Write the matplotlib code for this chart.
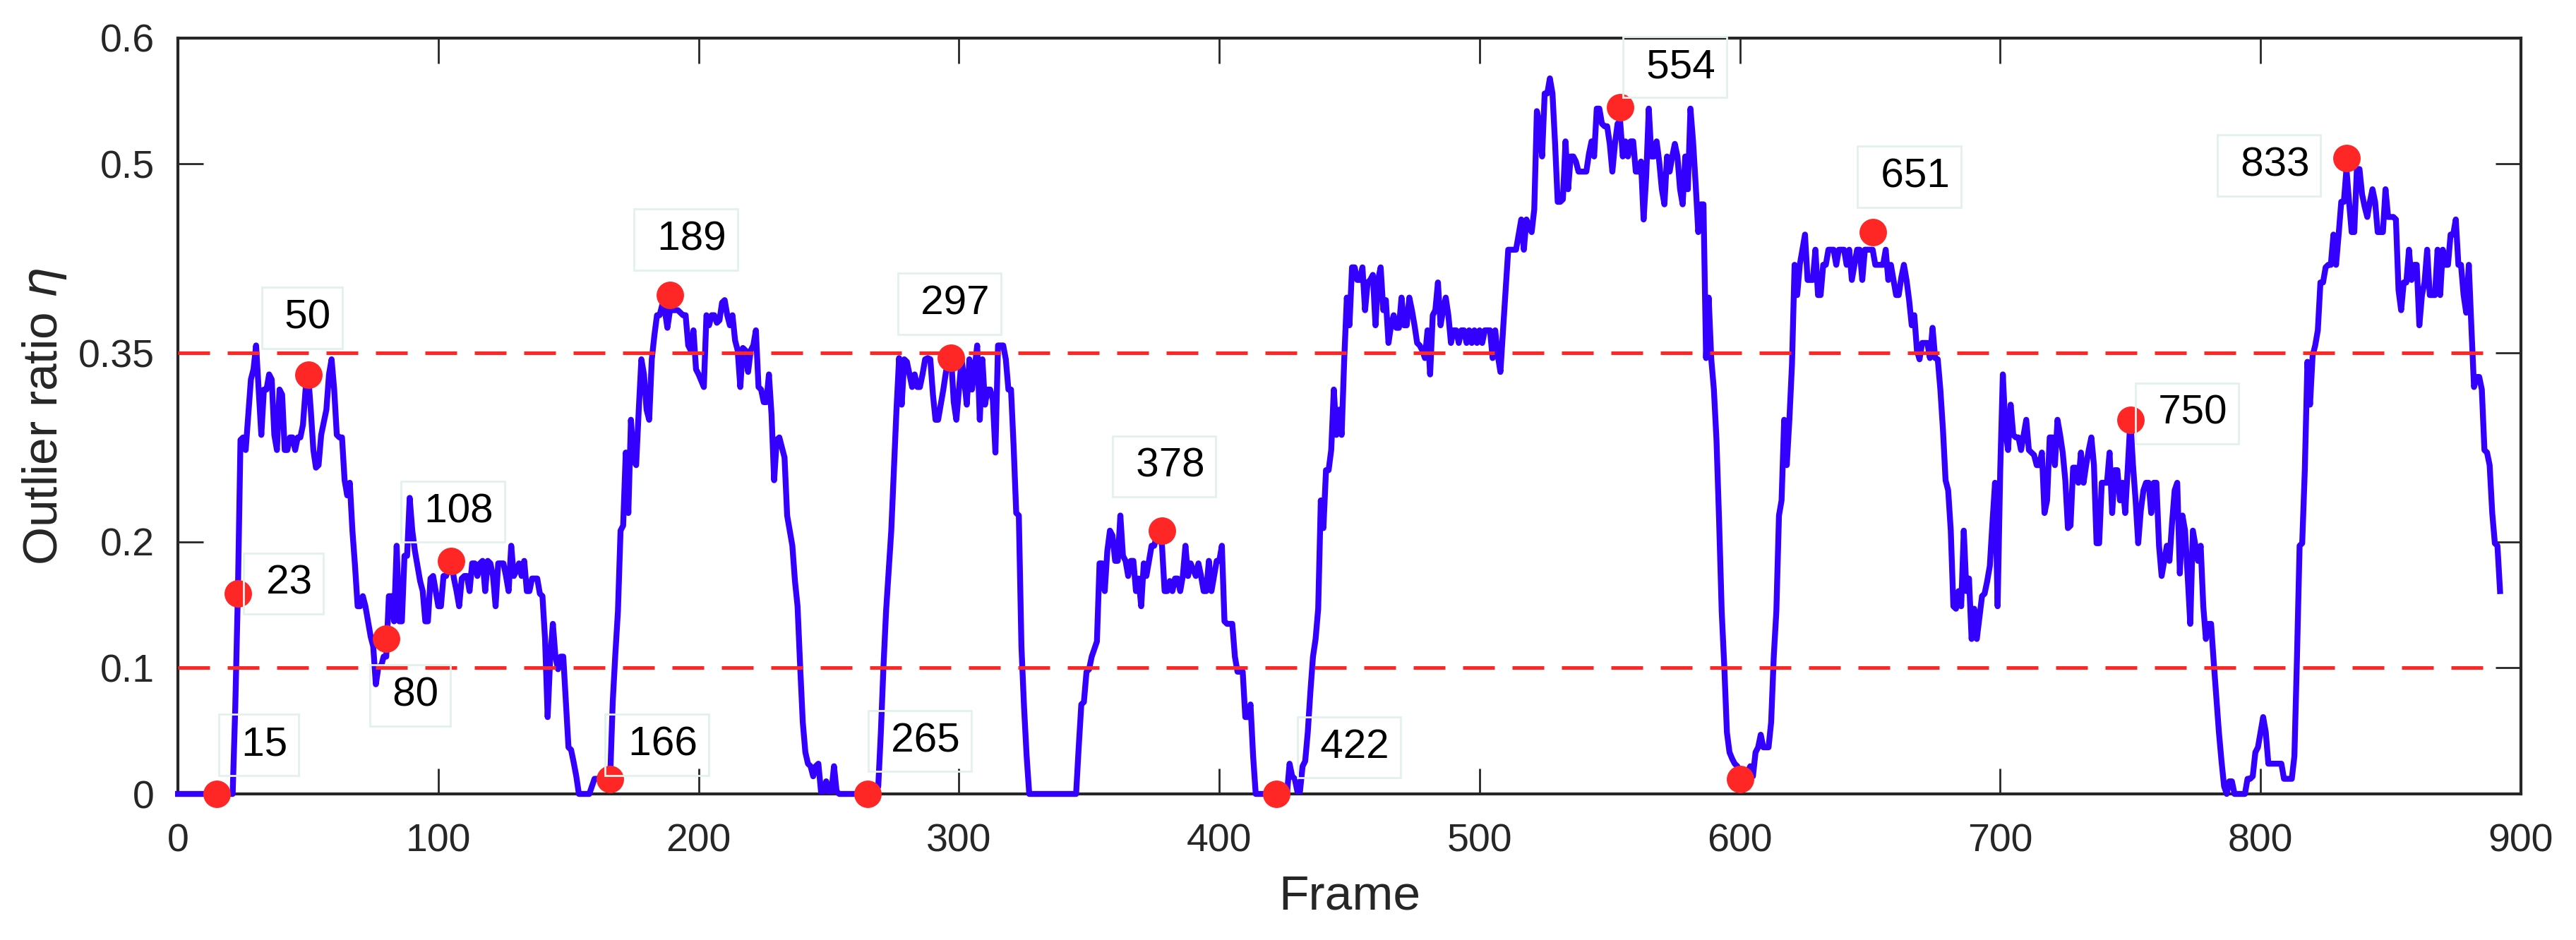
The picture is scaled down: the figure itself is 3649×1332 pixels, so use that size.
import numpy as np
import matplotlib
matplotlib.use("Agg")
import matplotlib.pyplot as plt

plt.rcParams['font.family'] = ['Liberation Sans', 'DejaVu Sans']
plt.rcParams['mathtext.fontset'] = 'dejavusans'

# outlier ratio per frame (frame index = position in list)
ratio = [
    0, 0, 0, 0, 0, 0, 0, 0, 0, 0,
    0, 0, 0, 0, 0, 0, 0, 0, 0, 0,
    0, 0, 0.069, 0.159, 0.281, 0.283, 0.273, 0.301, 0.329, 0.337,
    0.356, 0.321, 0.285, 0.321, 0.321, 0.333, 0.329, 0.285, 0.273, 0.321,
    0.317, 0.273, 0.273, 0.283, 0.283, 0.273, 0.283, 0.283, 0.293, 0.321,
    0.333, 0.305, 0.273, 0.259, 0.261, 0.285, 0.295, 0.305, 0.333, 0.345,
    0.321, 0.285, 0.283, 0.283, 0.249, 0.237, 0.247, 0.209, 0.181, 0.149,
    0.149, 0.157, 0.149, 0.137, 0.125, 0.117, 0.087, 0.101, 0.101, 0.109,
    0.109, 0.157, 0.157, 0.137, 0.197, 0.137, 0.137, 0.189, 0.189, 0.235,
    0.209, 0.193, 0.181, 0.169, 0.161, 0.137, 0.137, 0.171, 0.173, 0.161,
    0.149, 0.149, 0.173, 0.173, 0.180, 0.185, 0.171, 0.161, 0.149, 0.171,
    0.173, 0.173, 0.161, 0.183, 0.183, 0.173, 0.183, 0.185, 0.161, 0.185,
    0.183, 0.173, 0.149, 0.183, 0.183, 0.183, 0.173, 0.161, 0.197, 0.173,
    0.177, 0.183, 0.173, 0.185, 0.161, 0.161, 0.171, 0.171, 0.171, 0.159,
    0.157, 0.123, 0.061, 0.109, 0.135, 0.109, 0.099, 0.109, 0.109, 0.073,
    0.037, 0.035, 0.025, 0.014, 0, 0, 0, 0, 0, 0.006,
    0.012, 0.012, 0.012, 0.012, 0.012, 0.012, 0.012, 0.073, 0.111, 0.145,
    0.209, 0.213, 0.271, 0.223, 0.297, 0.265, 0.261, 0.305, 0.345, 0.333,
    0.305, 0.297, 0.345, 0.364, 0.380, 0.380, 0.388, 0.384, 0.370, 0.384,
    0.384, 0.384, 0.384, 0.382, 0.380, 0.380, 0.356, 0.352, 0.368, 0.337,
    0.333, 0.328, 0.323, 0.380, 0.372, 0.380, 0.380, 0.374, 0.376, 0.390,
    0.392, 0.380, 0.372, 0.380, 0.360, 0.352, 0.323, 0.354, 0.352, 0.335,
    0.352, 0.356, 0.368, 0.323, 0.321, 0.311, 0.311, 0.333, 0.301, 0.249,
    0.281, 0.283, 0.275, 0.267, 0.221, 0.209, 0.197, 0.169, 0.149, 0.101,
    0.057, 0.033, 0.024, 0.022, 0.014, 0.022, 0.024, 0.002, 0.002, 0.010,
    0.002, 0.002, 0.022, 0.002, 0, 0, 0, 0, 0, 0,
    0, 0, 0, 0, 0, 0, 0, 0, 0, 0.006,
    0.049, 0.101, 0.145, 0.177, 0.209, 0.257, 0.305, 0.346, 0.309, 0.345,
    0.343, 0.333, 0.323, 0.333, 0.323, 0.323, 0.333, 0.345, 0.346, 0.345,
    0.317, 0.297, 0.297, 0.309, 0.321, 0.335, 0.345, 0.346, 0.311, 0.297,
    0.321, 0.345, 0.329, 0.309, 0.345, 0.321, 0.337, 0.356, 0.297, 0.345,
    0.309, 0.321, 0.321, 0.313, 0.271, 0.356, 0.356, 0.356, 0.345, 0.321,
    0.321, 0.276, 0.223, 0.221, 0.117, 0.069, 0.030, 0, 0, 0,
    0, 0, 0, 0, 0, 0, 0, 0, 0, 0,
    0, 0, 0, 0, 0, 0, 0.037, 0.071, 0.073, 0.097,
    0.099, 0.109, 0.115, 0.121, 0.183, 0.183, 0.161, 0.193, 0.209, 0.205,
    0.185, 0.185, 0.221, 0.189, 0.185, 0.173, 0.185, 0.185, 0.161, 0.171,
    0.149, 0.183, 0.173, 0.185, 0.197, 0.197, 0.205, 0.207, 0.197, 0.161,
    0.161, 0.169, 0.161, 0.171, 0.171, 0.161, 0.173, 0.197, 0.173, 0.183,
    0.178, 0.173, 0.183, 0.173, 0.161, 0.161, 0.185, 0.161, 0.173, 0.185,
    0.185, 0.197, 0.137, 0.135, 0.135, 0.135, 0.109, 0.097, 0.097, 0.097,
    0.061, 0.061, 0.071, 0.030, 0, 0, 0, 0, 0, 0,
    0, 0, 0, 0, 0, 0, 0, 0.024, 0.014, 0.012,
    0.002, 0.002, 0.022, 0.026, 0.049, 0.081, 0.109, 0.123, 0.147, 0.233,
    0.211, 0.257, 0.257, 0.273, 0.321, 0.285, 0.305, 0.285, 0.345, 0.394,
    0.372, 0.418, 0.418, 0.408, 0.408, 0.418, 0.384, 0.406, 0.408, 0.412,
    0.372, 0.408, 0.418, 0.384, 0.392, 0.358, 0.372, 0.380, 0.370, 0.370,
    0.394, 0.372, 0.372, 0.394, 0.384, 0.372, 0.358, 0.356, 0.352, 0.346,
    0.368, 0.333, 0.380, 0.384, 0.406, 0.372, 0.384, 0.394, 0.380, 0.358,
    0.368, 0.368, 0.358, 0.368, 0.368, 0.358, 0.368, 0.358, 0.368, 0.358,
    0.368, 0.358, 0.368, 0.368, 0.368, 0.346, 0.368, 0.348, 0.335, 0.368,
    0.400, 0.432, 0.432, 0.432, 0.432, 0.444, 0.456, 0.432, 0.456, 0.450,
    0.446, 0.464, 0.542, 0.532, 0.506, 0.556, 0.556, 0.568, 0.556, 0.516,
    0.470, 0.470, 0.472, 0.518, 0.480, 0.506, 0.506, 0.502, 0.494, 0.494,
    0.494, 0.494, 0.508, 0.518, 0.506, 0.544, 0.544, 0.532, 0.530, 0.530,
    0.516, 0.494, 0.516, 0.532, 0.534, 0.506, 0.518, 0.506, 0.518, 0.518,
    0.494, 0.494, 0.502, 0.456, 0.490, 0.544, 0.506, 0.506, 0.518, 0.502,
    0.480, 0.468, 0.506, 0.494, 0.506, 0.516, 0.506, 0.480, 0.468, 0.506,
    0.480, 0.544, 0.518, 0.484, 0.446, 0.468, 0.468, 0.346, 0.394, 0.345,
    0.321, 0.281, 0.217, 0.145, 0.101, 0.049, 0.033, 0.028, 0.024, 0.022,
    0.012, 0.012, 0.016, 0.018, 0.022, 0.014, 0.033, 0.037, 0.047, 0.037,
    0.037, 0.037, 0.057, 0.109, 0.145, 0.221, 0.233, 0.297, 0.261, 0.297,
    0.341, 0.420, 0.396, 0.420, 0.432, 0.444, 0.408, 0.408, 0.408, 0.432,
    0.396, 0.396, 0.420, 0.420, 0.432, 0.432, 0.432, 0.420, 0.432, 0.432,
    0.432, 0.420, 0.432, 0.408, 0.420, 0.432, 0.432, 0.408, 0.432, 0.432,
    0.432, 0.432, 0.420, 0.420, 0.420, 0.420, 0.432, 0.408, 0.420, 0.408,
    0.396, 0.396, 0.410, 0.420, 0.408, 0.392, 0.372, 0.380, 0.352, 0.345,
    0.358, 0.358, 0.358, 0.346, 0.370, 0.346, 0.345, 0.321, 0.289, 0.249,
    0.241, 0.209, 0.149, 0.147, 0.161, 0.149, 0.209, 0.161, 0.171, 0.123,
    0.147, 0.123, 0.140, 0.157, 0.159, 0.169, 0.181, 0.215, 0.247, 0.149,
    0.257, 0.333, 0.289, 0.273, 0.309, 0.285, 0.283, 0.283, 0.273, 0.285,
    0.297, 0.273, 0.271, 0.269, 0.261, 0.261, 0.271, 0.223, 0.233, 0.283,
    0.283, 0.261, 0.297, 0.285, 0.271, 0.249, 0.211, 0.213, 0.259, 0.259,
    0.247, 0.271, 0.247, 0.261, 0.273, 0.283, 0.261, 0.199, 0.199, 0.247,
    0.247, 0.247, 0.271, 0.223, 0.257, 0.257, 0.233, 0.247, 0.223, 0.259,
    0.297, 0.261, 0.233, 0.199, 0.225, 0.241, 0.247, 0.247, 0.223, 0.247,
    0.247, 0.197, 0.173, 0.185, 0.197, 0.185, 0.215, 0.241, 0.247, 0.175,
    0.221, 0.209, 0.173, 0.135, 0.209, 0.197, 0.185, 0.197, 0.149, 0.123,
    0.135, 0.135, 0.105, 0.077, 0.049, 0.026, 0.006, 0, 0.010, 0.010,
    0, 0, 0, 0, 0, 0.012, 0.012, 0.014, 0.033, 0.037,
    0.049, 0.061, 0.049, 0.024, 0.024, 0.024, 0.024, 0.024, 0.024, 0.012,
    0.012, 0.012, 0.012, 0.030, 0.109, 0.197, 0.199, 0.257, 0.343, 0.309,
    0.348, 0.356, 0.368, 0.406, 0.406, 0.418, 0.420, 0.420, 0.444, 0.420,
    0.444, 0.470, 0.470, 0.496, 0.470, 0.446, 0.446, 0.496, 0.496, 0.476,
    0.466, 0.458, 0.470, 0.480, 0.470, 0.446, 0.446, 0.446, 0.480, 0.458,
    0.458, 0.458, 0.456, 0.400, 0.384, 0.406, 0.406, 0.432, 0.408, 0.420,
    0.420, 0.372, 0.396, 0.406, 0.432, 0.396, 0.396, 0.396, 0.432, 0.396,
    0.432, 0.420, 0.420, 0.444, 0.444, 0.456, 0.420, 0.420, 0.396, 0.382,
    0.420, 0.370, 0.323, 0.331, 0.331, 0.321, 0.273, 0.271, 0.261, 0.223,
    0.199, 0.197, 0.161,
]
frame = np.arange(len(ratio))

thresholds = [0.1, 0.35]

# marked key frames and their outlier ratios
key_frame = [15, 23, 50, 80, 105, 166, 189, 265, 297, 378, 422, 554, 600, 651, 750, 833]
key_ratio = [0, 0.159, 0.333, 0.123, 0.185, 0.012, 0.396, 0, 0.346, 0.209, 0, 0.545, 0.012, 0.446, 0.297, 0.505]
key_label = ['15', '23', '50', '80', '108', '166', '189', '265', '297', '378', '422', '554', '', '651', '750', '833']

# where each label box sits (data coords of box centre)
label_xy = [(31.0, 0.039), (40.5, 0.167), (47.6, 0.378), (89.1, 0.078), (105.6, 0.224),
            (184.0, 0.039), (195.1, 0.440), (285.0, 0.042), (296.4, 0.389), (378.9, 0.260),
            (449.8, 0.037), (575.0, 0.577), None, (665.1, 0.490), (771.7, 0.302), (803.3, 0.499)]

xticks = [0, 100, 200, 300, 400, 500, 600, 700, 800, 900]
yticks = [0, 0.1, 0.2, 0.35, 0.5, 0.6]
ytick_labels = ['0', '0.1', '0.2', '0.35', '0.5', '0.6']

dark = '#262626'
blue = '#3300ff'
red = '#ff2626'

fig = plt.figure(figsize=(36.49, 13.32), dpi=100)
ax = fig.add_axes([0.0691, 0.1554, 0.9095, 0.8041])

ax.plot(frame, ratio, color=blue, lw=6, zorder=3, clip_on=False)
ax.hlines(thresholds, frame[0], frame[-1], colors=red, lw=3.6,
          linestyles=[(0, (9, 5))], zorder=4)
ax.plot(key_frame, key_ratio, 'o', color=red, ms=28, mec='none', zorder=6, clip_on=False)

for lab, xy in zip(key_label, label_xy):
    if not lab:
        continue
    ax.text(xy[0], xy[1], ' ' + lab, ha='center', va='center', fontsize=42, color='black',
            zorder=7, clip_on=False,
            bbox=dict(boxstyle='square,pad=0.28', fc='none', ec='#e3f1ec', lw=2))

ax.set_xlim(0, 900)
ax.set_ylim(0, 0.6)
ax.set_xticks(xticks)
ax.set_yticks(yticks)
ax.set_yticklabels(ytick_labels)
ax.tick_params(direction='in', length=26, width=2, top=True, right=True,
               labelsize=40, colors=dark, pad=24)
ax.tick_params(axis='x', pad=30)
for s in ax.spines.values():
    s.set_linewidth(3)
    s.set_color(dark)
    s.set_zorder(2.5)

ax.set_xlabel('Frame', fontsize=50, color=dark, labelpad=14)
ax.set_ylabel(r'Outlier ratio $\eta$', fontsize=50, color=dark, labelpad=10)

fig.savefig('out.png', dpi=100)
